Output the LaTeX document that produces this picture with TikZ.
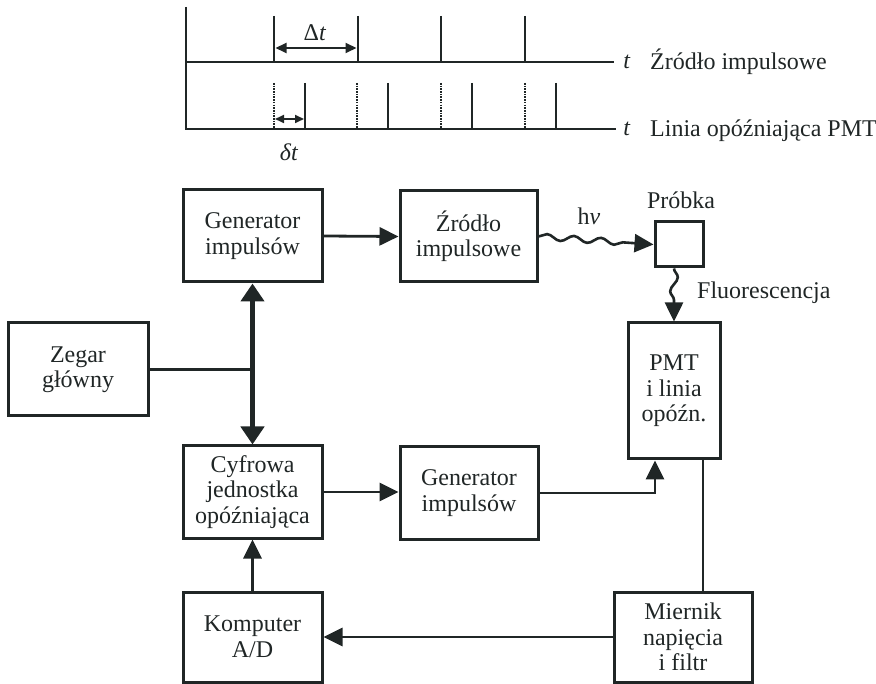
\documentclass[tikz,border=0pt]{standalone}
\usepackage{fontspec}
\setmainfont{Liberation Serif}
\usetikzlibrary{arrows.meta,decorations.pathmorphing}
\definecolor{ink}{RGB}{32,38,38}
\begin{document}
\begin{tikzpicture}[x=1pt,y=-1pt,
  every node/.style={text=ink, font=\fontsize{24}{25.5}\selectfont, inner sep=0pt},
  blk/.style 2 args={draw=ink, line width=3pt, minimum width=#1, minimum height=#2, align=center},
  conn/.style={draw=ink, line width=2.8pt},
  thin conn/.style={draw=ink, line width=2.4pt},
  fat/.style={draw=ink, line width=4.8pt},
  tip/.style={-{Triangle[length=19pt,width=18pt]}},
  fattips/.style={{Triangle[length=18pt,width=23pt]}-{Triangle[length=18pt,width=23pt]}},
  tl/.style={draw=ink, line width=2.8pt},
  dots/.style={draw=ink, line width=1.4pt, dash pattern=on 1.6pt off 1.1pt},
  wave/.style={draw=ink, line width=2.6pt, decorate,
    decoration={snake, amplitude=3pt, segment length=27pt, post length=19pt}},
]
\useasboundingbox (0,0) rectangle (876,684);

% ---------- timing diagram ----------
\draw[tl] (186,7) -- (186,129) -- (616,129);
\draw[tl] (186,62) -- (614,62);
\foreach \x in {274,358,441,525} \draw[tl] (\x,16) -- (\x,62);
\foreach \x in {274,357,441,525} \draw[dots] (\x,83) -- (\x,129);
\foreach \x in {305,388,472,556} \draw[tl] (\x,83) -- (\x,129);
\draw[draw=ink, line width=2pt, {Triangle[length=11pt,width=10pt]}-{Triangle[length=11pt,width=10pt]}] (275.5,48) -- (356.5,48);
\draw[draw=ink, line width=1.7pt, {Triangle[length=9pt,width=8pt]}-{Triangle[length=9pt,width=8pt]}] (275,119) -- (304,119);
\node (dT) at (315,33) {Δ\textit{t}};
\node (dt) at (289,152) {\textit{δt}};
\node (t1) at (627,62) {\textit{t}};
\node (t2) at (627,129) {\textit{t}};
\node[anchor=base west] (l1) at (650,70) {Źródło impulsowe};
\node[anchor=base west] (l2) at (650,137) {Linia opóźniająca PMT};

% ---------- blocks ----------
\node[blk={139pt}{92pt}] (gi1) at (252.5,236) {Generator\\impulsów};
\node[blk={137pt}{91pt}] (zr) at (468.5,236.5) {Źródło\\impulsowe};
\node[blk={48pt}{45pt}] (pr) at (679,244.5) {};
\node[blk={92pt}{136pt}] (pmt) at (674,391) {PMT\\i linia\\opóźn.};
\node[blk={140pt}{93pt}] (zeg) at (78,369.5) {Zegar\\główny};
\node[blk={139pt}{92pt}] (cyf) at (252.5,492) {Cyfrowa\\jednostka\\opóźniająca};
\node[blk={138pt}{92pt}] (gi2) at (469,493) {Generator\\impulsów};
\node[blk={139pt}{90pt}] (kom) at (252.5,637) {Komputer\\A/D};
\node[blk={138pt}{90pt}] (mier) at (683,637) {Miernik\\napięcia\\i filtr};

% labels
\node[anchor=base] (prl) at (681,209) {Próbka};
\node[anchor=base] (hv) at (589,225) {h\textit{ν}};
\node[anchor=base west] (fl) at (697,299) {Fluorescencja};

% ---------- connectors ----------
\draw[conn, tip] (gi1.east) -- (zr.west);
\draw[wave, tip] (zr.east) -- (pr.west);
\coordinate (fs) at (pmt.north |- pr.south);
\draw[wave, tip, decoration={amplitude=3.8pt, segment length=28pt, post length=17pt}] (fs) -- (pmt.north);
\coordinate (junc) at (gi1.south |- zeg.east);
\draw[thin conn] (zeg.east) -- (junc);
\draw[fat, fattips] (gi1.south) -- (cyf.north);
\draw[conn, tip] (cyf.east) -- (cyf.east -| gi2.west);
\coordinate (pin) at ([xshift=-19pt]pmt.south);
\draw[conn, tip] (gi2.east) -| (pin);
\coordinate (pout) at ([xshift=29pt]pmt.south);
\draw[thin conn] (pout) -- (pout |- mier.north);
\draw[conn, tip] (mier.west) -- (kom.east);
\draw[conn, tip] (kom.north) -- (cyf.south);
\end{tikzpicture}
\end{document}
